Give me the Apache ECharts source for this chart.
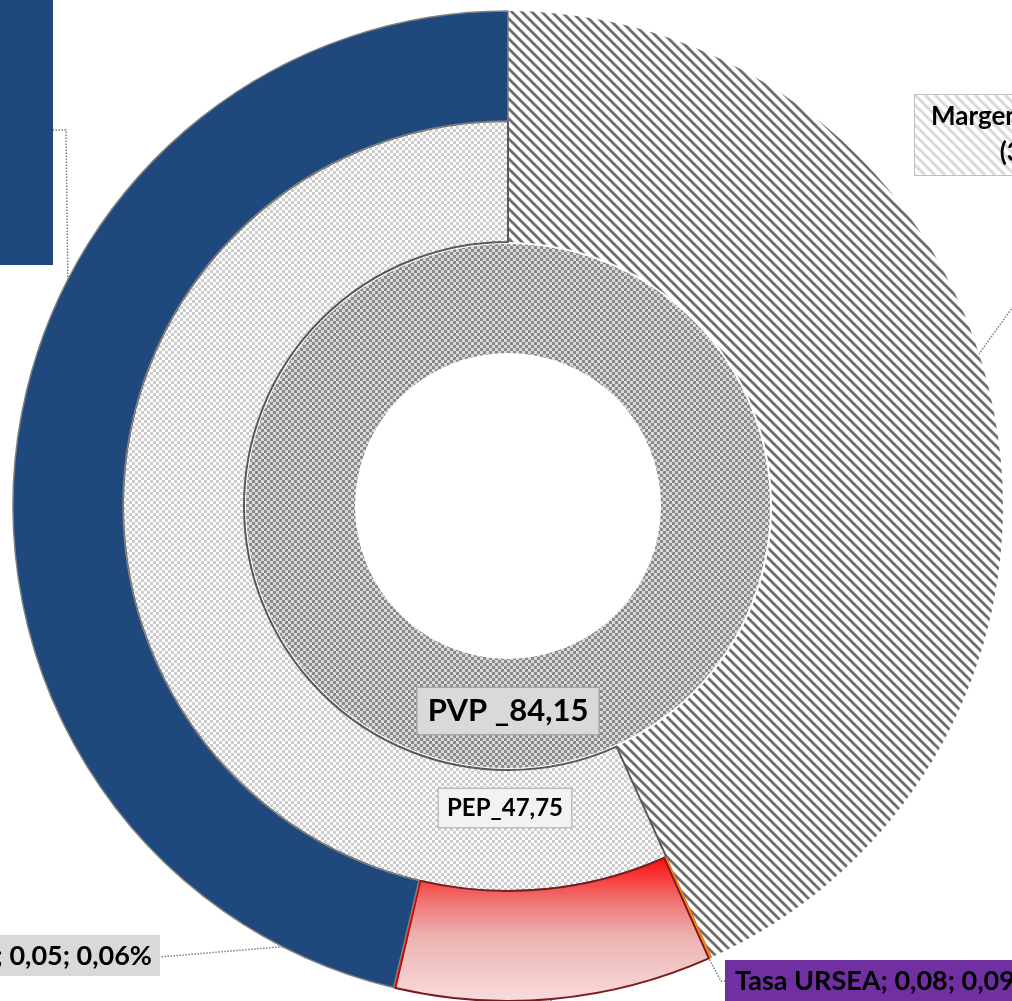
<!DOCTYPE html>
<html>
<head>
<meta charset="utf-8">
<script src="https://cdn.jsdelivr.net/npm/echarts@6.0.0/dist/echarts.min.js"></script>
<style>
  html, body { margin: 0; padding: 0; background: #fff; }
  #chart { width: 1012px; height: 1001px; }
</style>
</head>
<body>
<div id="chart"></div>
<script>
// anillo interior
const pvpName = 'PVP';
const pvpValue = 84.15;

// anillo medio
const midNames = ['Margen', 'PEP'];
const midValues = [36.40, 47.75];

// anillo exterior
const outerNames = ['Margen distribución y venta', 'Tasa URSEA', 'Impuestos', 'Fideicomiso', 'Costo de paridad'];
const outerValues = [36.40, 0.08, 8.67, 0.05, 38.95];
const outerPct = [43.26, 0.09, 10.30, 0.06, 46.29];

const fmt = v => v.toFixed(2).replace('.', ',');
const FONT = 'Lato';

// --- patrones (tramas tipo Excel) ---
function makeCanvas(w, h, draw) {
    const c = document.createElement('canvas');
    c.width = w; c.height = h;
    draw(c.getContext('2d'), w, h);
    return c;
}
function drawStripes(ctx, w, h, color, lw, step) {
    ctx.fillStyle = '#fff';
    ctx.fillRect(0, 0, w, h);
    ctx.strokeStyle = color;
    ctx.lineWidth = lw;
    for (let c = -h - step; c <= w + step; c += step) {
        ctx.beginPath();
        ctx.moveTo(c, 0);
        ctx.lineTo(c + h, h);
        ctx.stroke();
    }
}
const stripeTile = makeCanvas(10, 10, (ctx, w, h) => {
    ctx.fillStyle = '#fff';
    ctx.fillRect(0, 0, w, h);
    ctx.strokeStyle = '#6e6e6e';
    ctx.lineWidth = 2.8;
    [-10, 0, 10].forEach(c => {
        ctx.beginPath();
        ctx.moveTo(-1, c - 1);
        ctx.lineTo(11, 11 + c);
        ctx.stroke();
    });
});
const darkChecker = makeCanvas(6, 6, ctx => {
    ctx.fillStyle = '#dadada';
    ctx.fillRect(0, 0, 6, 6);
    ctx.fillStyle = '#8a8a8a';
    ctx.fillRect(0, 0, 3, 3);
    ctx.fillRect(3, 3, 3, 3);
});
const lightChecker = makeCanvas(6, 6, ctx => {
    ctx.fillStyle = '#ffffff';
    ctx.fillRect(0, 0, 6, 6);
    ctx.fillStyle = '#cdcdcd';
    ctx.fillRect(0, 0, 3, 3);
    ctx.fillRect(3, 3, 3, 3);
});

// caja de la etiqueta del margen (trama clara)
const margenText = outerNames[0] + ';\n(' + fmt(outerValues[0]) + '; ' + fmt(outerPct[0]) + '%)';
const mctx = document.createElement('canvas').getContext('2d');
mctx.font = 'bold 26px ' + FONT;
const margenTextW = Math.ceil(Math.max(...margenText.split('\n').map(t => mctx.measureText(t).width)));
const margenBoxW = margenTextW + 20;
const margenBoxH = 80;
const margenBg = makeCanvas(margenBoxW, margenBoxH, (ctx, w, h) => drawStripes(ctx, w, h, '#d9d9d9', 3, 10));

const dotted = { type: 'dotted', color: '#7f7f7f', width: 1.5 };
const center = [508, 506];

// posiciones de etiquetas del anillo exterior
const outerLabelPos = [
    { x: 915 + margenBoxW / 2, y: 95, align: 'center', va: 'top', line: [[935, 415], [1030, 283], [1040, 175]] },
    { x: 725, y: 960, align: 'left', va: 'top', line: [[708, 957], [721, 981], [725, 981]] },
    { x: 551, y: 1040, align: 'center', va: 'top', line: [[549, 946], [551, 1000], [551, 1040]] },
    { x: 160, y: 935, align: 'right', va: 'top', line: [[408, 935], [290, 946], [160, 957]] },
    { x: 53 - 340, y: 265, align: 'left', va: 'bottom', line: [[70, 457], [66, 130], [53, 130]] }
];

const outerItemStyles = [
    { color: 'transparent', borderWidth: 0 },
    { color: '#ff8c1a', borderColor: '#e36c09', borderWidth: 1 },
    {
        color: new echarts.graphic.LinearGradient(0, 0, 0, 1, [
            { offset: 0, color: '#ff0a0a' },
            { offset: 0.3, color: '#f07272' },
            { offset: 0.55, color: '#edb2b2' },
            { offset: 1, color: '#f8dcdc' }
        ]),
        borderColor: '#7a1c1c', borderWidth: 2
    },
    { color: '#ff0000', borderColor: '#e00000', borderWidth: 1 },
    { color: '#1f497d', borderColor: '#7f7f7f', borderWidth: 1.5 }
];

const outerLabelStyles = [
    {
        formatter: margenText, backgroundColor: { image: margenBg },
        borderColor: '#bfbfbf', borderWidth: 2, width: margenTextW, height: margenBoxH - 8,
        padding: [4, 10], lineHeight: 36, fontSize: 26
    },
    { backgroundColor: '#7030a0', padding: [8, 10, 20, 10], fontSize: 27 },
    { backgroundColor: '#f2c4c4', padding: [8, 10], fontSize: 27 },
    { backgroundColor: '#d9d9d9', padding: [8, 8, 6, 8], fontSize: 27 },
    {
        formatter: outerNames[4] + ';\n' + fmt(outerValues[4]) + ';\n' + fmt(outerPct[4]) + '%',
        backgroundColor: '#1f497d', color: '#fff', width: 320, height: 245,
        padding: 10, fontSize: 27, overflow: 'none'
    }
];

const outerData = outerNames.map((n, i) => ({
    name: n,
    value: outerValues[i],
    itemStyle: outerItemStyles[i],
    label: Object.assign({
        formatter: n + '; ' + fmt(outerValues[i]) + '; ' + fmt(outerPct[i]) + '%'
    }, outerLabelStyles[i])
}));

const chart = echarts.init(document.getElementById('chart'), null, { renderer: 'canvas' });

chart.setOption({
    animation: false,
    backgroundColor: '#ffffff',
    series: [
        {
            // PVP
            type: 'pie', silent: true, center, radius: [153, 262], startAngle: 90,
            data: [{ name: pvpName, value: pvpValue }],
            itemStyle: { color: { image: darkChecker, repeat: 'repeat' }, borderWidth: 0 },
            label: {
                position: 'inside',
                formatter: p => p.name + ' _' + fmt(p.value),
                backgroundColor: '#d9d9d9', borderColor: '#a6a6a6', borderWidth: 1.5,
                padding: [9, 10, 6, 10], fontFamily: FONT, fontWeight: 'bold', fontSize: 31, color: '#000'
            },
            labelLine: { show: false },
            labelLayout: () => ({ x: 508, y: 711, align: 'center', verticalAlign: 'middle' })
        },
        {
            // trama del margen (ocupa anillo medio y exterior)
            type: 'pie', silent: true, center, radius: [264, 495], startAngle: 90,
            data: midNames.map((n, i) => ({
                name: n, value: midValues[i],
                itemStyle: i === 0
                    ? { color: { image: stripeTile, repeat: 'repeat' } }
                    : { color: 'transparent' }
            })),
            label: { show: false }, labelLine: { show: false }
        },
        {
            // PEP
            type: 'pie', silent: true, center, radius: [264, 385], startAngle: 90,
            avoidLabelOverlap: false,
            data: midNames.map((n, i) => ({
                name: n, value: midValues[i],
                itemStyle: i === 0
                    ? { color: 'transparent', borderWidth: 0 }
                    : { color: { image: lightChecker, repeat: 'repeat' }, borderColor: '#595959', borderWidth: 2 },
                label: { show: i === 1 }
            })),
            label: {
                formatter: p => p.name + '_' + fmt(p.value),
                backgroundColor: '#f2f2f2', borderColor: '#bfbfbf', borderWidth: 1.5,
                padding: [8, 8, 6, 8], fontFamily: FONT, fontWeight: 'bold', fontSize: 24, color: '#000'
            },
            labelLine: { show: false },
            labelLayout: () => ({ x: 505, y: 808, align: 'center', verticalAlign: 'middle' })
        },
        {
            // anillo exterior
            type: 'pie', silent: true, center, radius: [385, 495], startAngle: 90,
            avoidLabelOverlap: false,
            data: outerData,
            label: {
                show: true, position: 'outside',
                fontFamily: FONT, fontWeight: 'bold', color: '#000'
            },
            labelLine: { show: true, lineStyle: dotted, length: 10, length2: 10 },
            labelLayout: p => {
                const s = outerLabelPos[p.dataIndex];
                return { x: s.x, y: s.y, align: s.align, verticalAlign: s.va, labelLinePoints: s.line };
            }
        }
    ]
});

window.addEventListener('resize', () => chart.resize());
</script>
</body>
</html>
